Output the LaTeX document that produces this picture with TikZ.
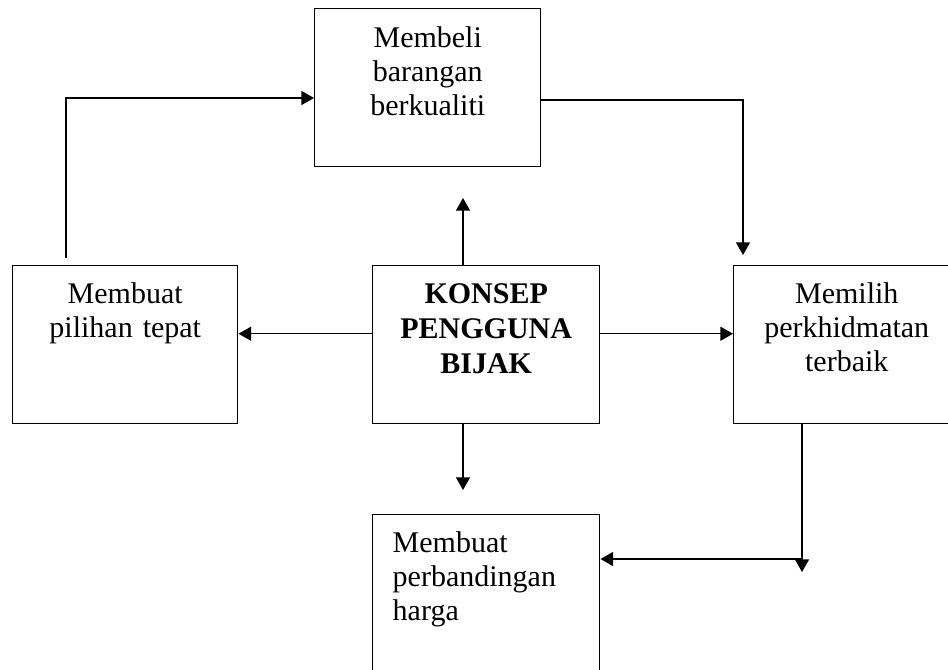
\documentclass[tikz,border=0pt]{standalone}
\usepackage{fontspec}
\setmainfont{Liberation Serif}
\usetikzlibrary{arrows.meta}

\begin{document}
\begin{tikzpicture}[x=0.75pt,y=-0.75pt,
  box/.style={draw,line width=1.1pt,anchor=north west,inner sep=0pt,
    align=center,text height=28.5pt,text depth=90pt,
    font=\fontsize{22.5}{25.5}\selectfont},
  arr/.style={line width=1.1pt,-{Triangle[length=9.5pt,width=10.5pt]}}]
\useasboundingbox (0,0) rectangle (948,670);
\node[box,text width=169.5pt,text height=29.25pt,text depth=89.25pt] (beli) at (314,8) {Membeli\\barangan\\berkualiti};
\node[box,text width=168.75pt] (pilihan) at (12,265) {Membuat\\pilihan tepat};
\node[box,text width=170.25pt,font=\fontsize{22.5}{26.25}\selectfont\bfseries] (konsep) at (372,265) {KONSEP\\PENGGUNA\\BIJAK};
\node[box,text width=169.5pt] (hidmat) at (733,265) {Memilih\\perkhidmatan\\terbaik};
\node[box,align=left,inner xsep=15pt,text width=140.25pt,text depth=106.5pt] (harga) at (372,514) {Membuat\\perbandingan\\harga};
\coordinate (atasTip) at (463,198);
\coordinate (bawahTip) at (463,490);
\coordinate (belok1) at (66,98);
\coordinate (belok2) at (743,100);
\coordinate (belok3) at (802,559);
\coordinate (kananTip) at (802,572);
\draw[arr] (atasTip |- konsep.north) -- (atasTip);
\draw[arr] (bawahTip |- konsep.south) -- (bawahTip);
\draw[arr] ([yshift=8.25pt]konsep.west) -- ([yshift=8.25pt]pilihan.east);
\draw[arr] ([yshift=8.25pt]konsep.east) -- ([yshift=8.25pt]hidmat.west);
\draw[arr] ([yshift=5.25pt]belok1 |- pilihan.north) -- (belok1) -- (belok1 -| beli.west);
\draw[arr] (belok2 -| beli.east) -- (belok2) -- ([yshift=7.5pt]belok2 |- hidmat.north);
\draw[arr] (kananTip |- hidmat.south) -- (kananTip);
\draw[arr] (belok3) -- (belok3 -| harga.east);
\end{tikzpicture}
\end{document}
